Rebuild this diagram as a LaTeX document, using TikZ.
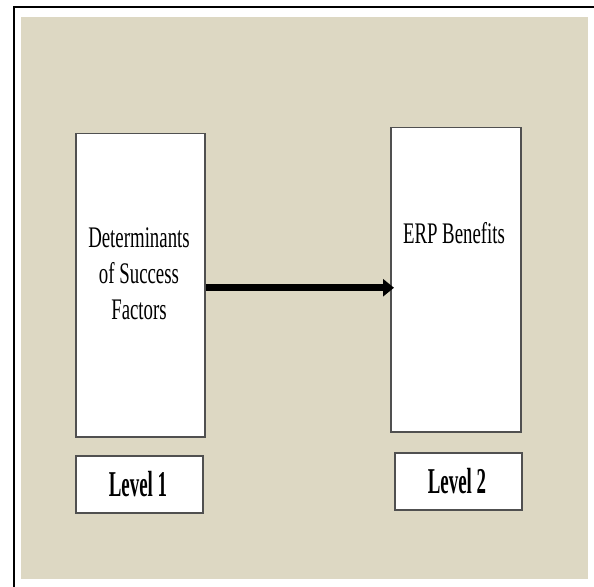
\documentclass[tikz,border=0pt]{standalone}
\usepackage{fontspec}
\setmainfont{Liberation Serif}
\newfontfamily\condfont[FakeStretch=0.63]{Liberation Serif}
\newfontfamily\condbold[FakeStretch=0.52]{Liberation Serif Bold}
\usetikzlibrary{arrows.meta}
\definecolor{panelbeige}{RGB}{221,216,195}
\definecolor{boxedge}{RGB}{80,80,80}
\tikzset{
  levelbox/.style={draw=boxedge, line width=1.5bp, fill=white, anchor=north west, inner sep=0pt},
  bodytext/.style={anchor=base, inner sep=0pt, font=\condfont\fontsize{30}{36}\selectfont},
  leveltext/.style={anchor=base, inner sep=0pt, font=\condbold\fontsize{36.5}{40}\selectfont},
  flowarrow/.style={line width=7bp, -{Triangle[length=11bp,width=17bp]}},
}
\begin{document}
\begin{tikzpicture}[x=1bp, y=-1bp]
  \useasboundingbox (0,0) rectangle (594,587);
  % outer frame: top and left rules
  \draw[line width=2bp] (14,587) -- (14,7.5) -- (594,7.5);
  % beige panel
  \fill[panelbeige] (21,17) rectangle (588,579);

  % main boxes
  \node[levelbox, minimum width=129bp, minimum height=303bp] (lbox) at (75,133) {};
  \node[levelbox, minimum width=130bp, minimum height=304bp] (rbox) at (390,127) {};
  % level boxes
  \node[levelbox, minimum width=127bp, minimum height=57bp] (lv1) at (75,455) {};
  \node[levelbox, minimum width=127bp, minimum height=57bp] (lv2) at (394,452) {};

  % box texts
  \node[bodytext] (t1) at (139,247) {Determinants};
  \node[bodytext] (t2) at (139,283) {of Success};
  \node[bodytext] (t3) at (139,319) {Factors};
  \node[bodytext] (t4) at (454,243) {ERP Benefits};
  \node[leveltext] (l1) at (138,496) {Level 1};
  \node[leveltext] (l2) at (457,493) {Level 2};

  % connector
  \path (lbox.east) ++(0,2.5) coordinate (a0);
  \draw[flowarrow, shorten >=-4bp] (a0) -- (a0 -| rbox.west);
\end{tikzpicture}
\end{document}
